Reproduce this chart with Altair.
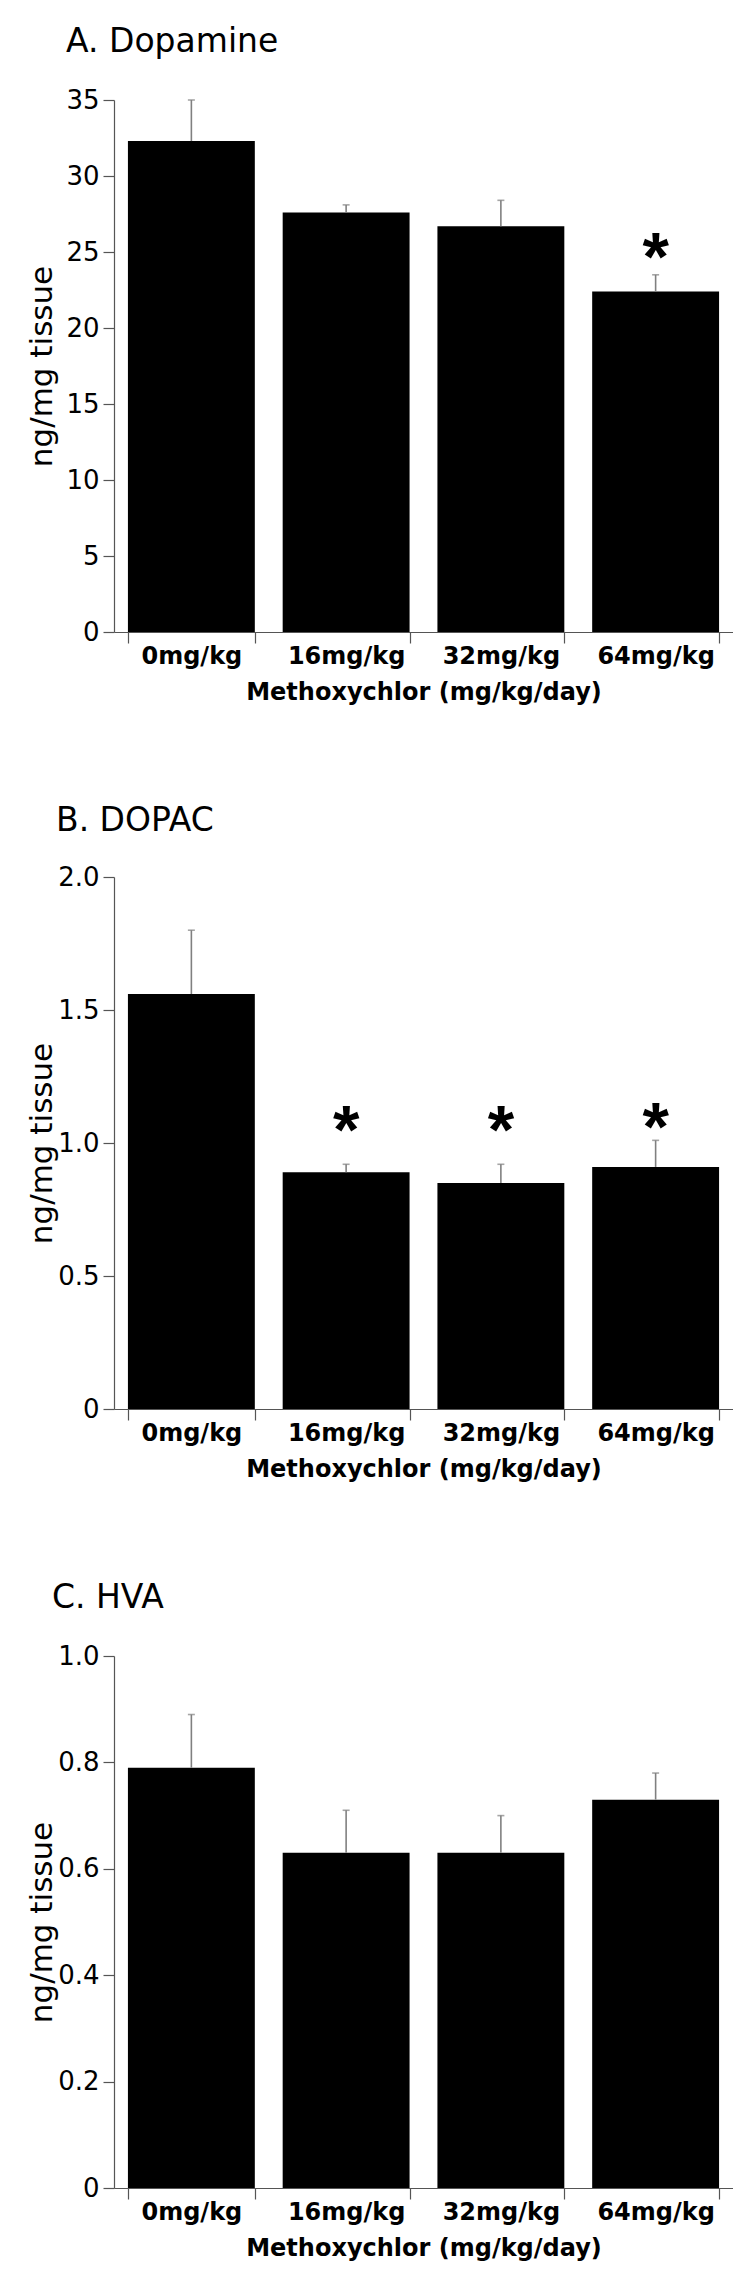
import altair as alt
import pandas as pd

categories = ["0mg/kg", "16mg/kg", "32mg/kg", "64mg/kg"]

dopamine_mean = [32.3, 27.6, 26.7, 22.4]
dopamine_upper = [35.0, 28.1, 28.4, 23.5]
dopamine_star = [None, None, None, 25.2]

dopac_mean = [1.56, 0.89, 0.85, 0.91]
dopac_upper = [1.80, 0.92, 0.92, 1.01]
dopac_star = [None, 1.08, 1.08, 1.09]

hva_mean = [0.79, 0.63, 0.63, 0.73]
hva_upper = [0.89, 0.71, 0.70, 0.78]
hva_star = [None, None, None, None]

panel_titles = ["A. Dopamine", "B. DOPAC", "C. HVA"]
y_title = "ng/mg tissue"
x_title = "Methoxychlor (mg/kg/day)"
dopamine_ticks = [0, 5, 10, 15, 20, 25, 30, 35]
dopac_ticks = [0, 0.5, 1.0, 1.5, 2.0]
hva_ticks = [0, 0.2, 0.4, 0.6, 0.8, 1.0]

W = 619
H = 532
AXIS_COLOR = "#555555"
ERR_COLOR = "#808080"


def panel(title, means, uppers, stars, ticks, ymax, label_expr, title_dx, title_dy):
    df = pd.DataFrame({"dose": categories, "mean": means, "upper": uppers, "star": stars})
    xenc = alt.X(
        "dose:N",
        sort=categories,
        scale=alt.Scale(paddingInner=0.18, paddingOuter=0.09),
        axis=alt.Axis(
            title=x_title,
            labelAngle=0,
            tickBand="extent",
            labelFont="DejaVu Sans",
            labelFontWeight="bold",
            labelFontSize=24,
            labelColor="black",
            labelPadding=1,
            titleFont="DejaVu Sans",
            titleFontWeight="bold",
            titleFontSize=24,
            titleColor="black",
            titlePadding=12,
        ),
    )
    yenc = alt.Y(
        "mean:Q",
        scale=alt.Scale(domain=[0, ymax], nice=False, zero=True),
        axis=alt.Axis(
            title=y_title,
            values=ticks,
            labelExpr=label_expr,
            grid=False,
            labelFont="DejaVu Sans",
            labelFontSize=26,
            labelColor="black",
            labelPadding=4,
            titleFont="DejaVu Sans",
            titleFontWeight="normal",
            titleFontSize=31,
            titleColor="black",
            titleX=-56,
            titleY=H / 2,
            titleAngle=-90,
            titleBaseline="bottom",
            titleAlign="center",
        ),
    )
    bars = alt.Chart(df).mark_bar(color="black").encode(x=xenc, y=yenc)
    err = alt.Chart(df).mark_rule(color=ERR_COLOR, strokeWidth=1.6).encode(
        x=alt.X("dose:N", sort=categories), y="mean:Q", y2="upper:Q"
    )
    cap = alt.Chart(df).mark_tick(color=ERR_COLOR, thickness=1.6, size=7).encode(
        x=alt.X("dose:N", sort=categories), y="upper:Q"
    )
    head = alt.Chart(pd.DataFrame({"t": [title]})).mark_text(
        font="DejaVu Sans",
        fontSize=33,
        align="left",
        baseline="alphabetic",
        color="black",
    ).encode(text="t:N", x=alt.value(title_dx), y=alt.value(title_dy))
    layers = [bars, err, cap, head]
    sdf = df[df["star"].notna()]
    if len(sdf) > 0:
        st = alt.Chart(sdf).mark_text(
            text="*",
            font="Liberation Sans",
            fontWeight="bold",
            fontSize=68,
            baseline="alphabetic",
            align="center",
            dy=31,
            color="black",
        ).encode(x=alt.X("dose:N", sort=categories), y="star:Q")
        layers.append(st)
    return alt.layer(*layers).properties(width=W, height=H)


lab_int = "datum.value"
lab_dec = "datum.value == 0 ? '0' : format(datum.value, '.1f')"

pa = panel(panel_titles[0], dopamine_mean, dopamine_upper, dopamine_star, dopamine_ticks, 35, lab_int, -48, -48)
pb = panel(panel_titles[1], dopac_mean, dopac_upper, dopac_star, dopac_ticks, 2.0, lab_dec, -58, -46)
pc = panel(panel_titles[2], hva_mean, hva_upper, hva_star, hva_ticks, 1.0, lab_dec, -62, -48)

chart = (
    alt.vconcat(pa, pb, pc, spacing=101)
    .properties(padding={"left": 18, "top": 18, "right": 0, "bottom": 5})
    .configure_view(stroke=None)
    .configure_axis(
        domainColor=AXIS_COLOR,
        tickColor=AXIS_COLOR,
        domainWidth=1.2,
        tickWidth=1.2,
        tickSize=11,
    )
)

chart.save("out.html", embed_options={"renderer": "svg", "actions": False})
